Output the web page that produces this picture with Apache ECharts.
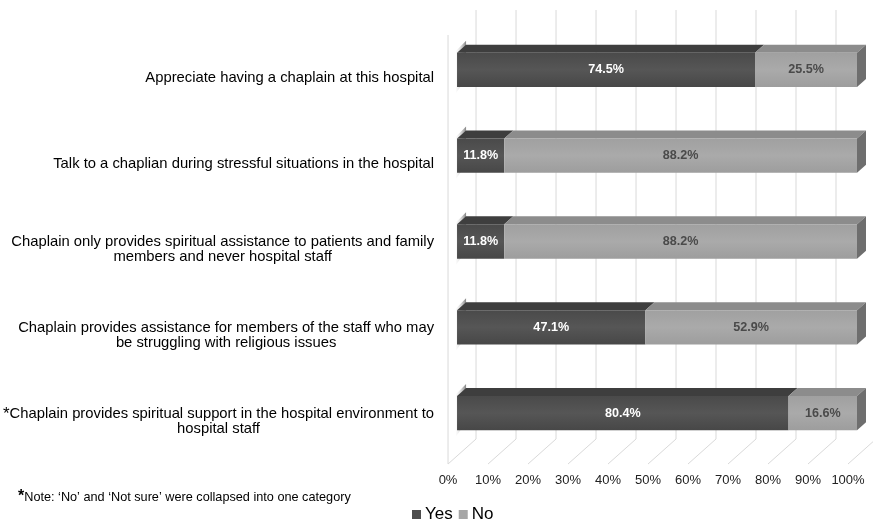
<!DOCTYPE html>
<html>
<head>
<meta charset="utf-8">
<script src="https://cdn.jsdelivr.net/npm/echarts@6/dist/echarts.min.js"></script>
<style>
html,body{margin:0;padding:0;background:#fff;}
#chart{width:873px;height:521px;}
</style>
</head>
<body>
<div id="chart"></div>
<script>
const categories = [
  'Appreciate having a chaplain at this hospital',
  'Talk to a chaplian during stressful situations in the hospital',
  'Chaplain only provides spiritual assistance to patients and family\nmembers and never hospital staff',
  'Chaplain provides assistance for members of the staff who may\nbe struggling with religious issues',
  '*Chaplain provides spiritual support in the hospital environment to\nhospital staff'
];
const yesValues = [74.5, 11.8, 11.8, 47.1, 80.4];
const noValues = [25.5, 88.2, 88.2, 52.9, 16.6];
const tickValues = [0, 10, 20, 30, 40, 50, 60, 70, 80, 90, 100];
const seriesNames = ['Yes', 'No'];

// 100% stacked: each bar spans the full axis, shares computed from the values
const yesData = [], noData = [];
categories.forEach(function (c, i) {
  const total = yesValues[i] + noValues[i];
  const yShare = yesValues[i] / total * 100;
  yesData.push([0, yShare, i, yesValues[i]]);
  noData.push([yShare, 100, i, noValues[i]]);
});

const FONT = '"Liberation Sans", Arial, sans-serif';
const DX = 9, DY = -8;      // bar front offset from front plane
const BD = 9, BDY = -8;      // bar depth
const WX = 28, WY = -25;     // wall depth

function barRender(kind) {
  return function (params, api) {
    const s = api.coord([api.value(0), api.value(2)]);
    const e = api.coord([api.value(1), api.value(2)]);
    const h = api.size([0, 1])[1] * 0.4;
    const x = s[0] + DX, y = s[1] + DY - h / 2, w = e[0] - s[0];
    const children = [];
    const dark = kind === 'yes';
    if (dark) {
      children.push({
        type: 'polygon',
        shape: { points: [[x - 1, y + h + 6], [x - 1, y - 2], [x + BD, y + BDY - 4], [x + BD, y + h + BDY]] },
        style: { fill: new echarts.graphic.LinearGradient(1, 0, 0, 0, [
          { offset: 0, color: 'rgba(110,110,110,0.85)' }, { offset: 1, color: 'rgba(235,235,235,0.2)' }]) },
        z2: 1
      });
    }
    children.push({
      type: 'polygon',
      shape: { points: [[x, y], [x + w, y], [x + w + BD, y + BDY], [x + BD, y + BDY]] },
      style: { fill: dark ? '#3e3e3e' : '#8c8c8c' },
      z2: 2
    });
    children.push({
      type: 'rect',
      shape: { x: x, y: y, width: w, height: h },
      style: { fill: new echarts.graphic.LinearGradient(0, 0, 0, 1, dark ? [
        { offset: 0, color: '#4a4a4a' }, { offset: 0.5, color: '#565656' }, { offset: 1, color: '#474747' }] : [
        { offset: 0, color: '#a0a0a0' }, { offset: 0.5, color: '#aaaaaa' }, { offset: 1, color: '#9d9d9d' }]) },
      z2: 3
    });
    if (!dark) {
      children.push({
        type: 'polygon',
        shape: { points: [[x + w, y], [x + w + BD, y + BDY], [x + w + BD, y + h + BDY], [x + w, y + h]] },
        style: { fill: '#6e6e6e' },
        z2: 3
      });
    }
    children.push({
      type: 'text',
      style: {
        x: x + w / 2, y: y + h / 2,
        text: api.value(3).toFixed(1) + '%',
        align: 'center', verticalAlign: 'middle',
        fill: dark ? '#ffffff' : '#4a4a4a',
        font: 'bold 12.6px ' + FONT
      },
      z2: 4
    });
    return { type: 'group', children: children };
  };
}

const option = {
  backgroundColor: '#ffffff',
  animation: false,
  grid: { left: 447, right: 25, top: 35, bottom: 57 },
  xAxis: {
    type: 'value', min: 0, max: 100, interval: 10,
    axisLine: { show: false }, axisTick: { show: false }, splitLine: { show: false },
    axisLabel: { formatter: '{value}%', color: '#222', fontSize: 13, margin: 10, fontFamily: FONT }
  },
  yAxis: {
    type: 'category', data: categories, inverse: true,
    axisLine: { show: false }, axisTick: { show: false }, splitLine: { show: false },
    axisLabel: {
      margin: 14, align: 'right', color: '#000', fontSize: 14.8, lineHeight: 15,
      fontFamily: FONT,
      formatter: function (v) {
        return v.split('\n').map(function (l) {
          if (l.charAt(0) === '*') return '{s|*}{c|' + l.slice(1) + '}';
          return '{c|' + l + '}';
        }).join('\n');
      },
      rich: {
        c: { align: 'center', fontSize: 14.8, lineHeight: 15, color: '#000', fontFamily: FONT },
        s: { fontSize: 17, lineHeight: 15, color: '#000', fontFamily: FONT, verticalAlign: 'top' }
      }
    }
  },
  legend: {
    data: seriesNames, left: 407, top: 501, itemWidth: 9, itemHeight: 9, itemGap: 6,
    icon: 'rect',
    textStyle: { fontSize: 17, color: '#000', fontFamily: FONT, padding: [0, 0, 0, -1] }
  },
  graphic: [{
    type: 'text', left: 18, top: 489,
    style: {
      text: '{a|*}{b|Note: ‘No’ and ‘Not sure’ were collapsed into one category}',
      rich: {
        a: { fontSize: 16, fontWeight: 'bold', fill: '#000', verticalAlign: 'top', fontFamily: FONT },
        b: { fontSize: 12.7, fill: '#000', fontFamily: FONT }
      }
    }
  }],
  series: [
    {
      type: 'custom', name: 'walls', silent: true, z: 0,
      data: tickValues.map(function (v) { return [v, 0]; }),
      encode: { x: 0, y: 1 },
      renderItem: function (params, api) {
        const cs = params.coordSys;
        const x = api.coord([api.value(0), 0])[0];
        const bottom = cs.y + cs.height;
        const children = [
          { type: 'line', shape: { x1: x + WX, y1: cs.y + WY, x2: x + WX, y2: bottom + WY }, style: { stroke: '#d9d9d9', lineWidth: 1 } },
          { type: 'line', shape: { x1: x, y1: bottom, x2: x + WX, y2: bottom + WY }, style: { stroke: '#d9d9d9', lineWidth: 1 } }
        ];
        if (api.value(0) === 0) {
          children.push({ type: 'line', shape: { x1: x, y1: cs.y, x2: x, y2: bottom }, style: { stroke: '#d9d9d9', lineWidth: 1 } });
        }
        return { type: 'group', children: children };
      }
    },
    {
      type: 'custom', name: 'Yes', z: 2,
      itemStyle: { color: '#4d4d4d' },
      data: yesData, encode: { x: [0, 1], y: 2 },
      renderItem: barRender('yes')
    },
    {
      type: 'custom', name: 'No', z: 3,
      itemStyle: { color: '#a6a6a6' },
      data: noData, encode: { x: [0, 1], y: 2 },
      renderItem: barRender('no')
    }
  ]
};

const chart = echarts.init(document.getElementById('chart'));
chart.setOption(option);
</script>
</body>
</html>
